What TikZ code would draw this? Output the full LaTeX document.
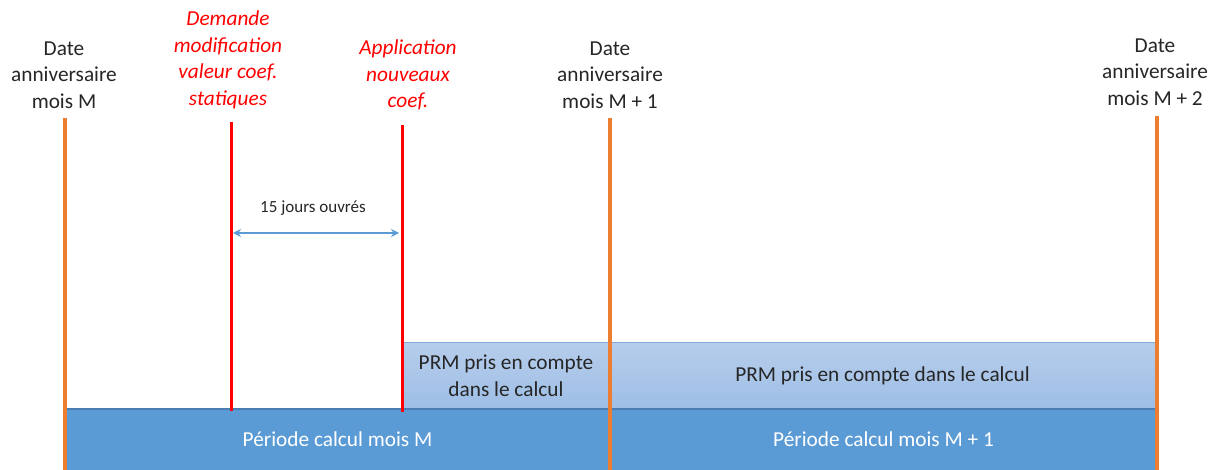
\documentclass[tikz,border=0pt]{standalone}
\usepackage{fontspec}
\setmainfont{Carlito}
\usetikzlibrary{arrows.meta}
\definecolor{orangeL}{HTML}{ED7D31}
\definecolor{redL}{HTML}{FF0000}
\definecolor{darkB}{HTML}{5B9BD5}
\definecolor{darkBedge}{HTML}{4A7DB2}
\definecolor{lightTop}{HTML}{B6CDEB}
\definecolor{lightBot}{HTML}{9EBEE6}
\definecolor{lightEdge}{HTML}{7FAADB}
\definecolor{txt}{HTML}{262626}
\begin{document}
\begin{tikzpicture}[x=1pt,y=-1pt,
  hdr/.style={align=center,inner sep=0pt,text=txt,font=\fontsize{21.3}{26.5}\selectfont},
  redhdr/.style={hdr,text=redL,font=\fontsize{21.3}{26.5}\selectfont\itshape},
  datel/.style={draw=orangeL,line width=4pt},
  redl/.style={draw=redL,line width=3pt},
  lightbox/.style={rectangle,inner sep=0pt,top color=lightTop,bottom color=lightBot,align=center,text=txt,font=\fontsize{21.3}{27}\selectfont},
  darkbox/.style={rectangle,inner sep=0pt,fill=darkB,align=center,text=white,font=\fontsize{21.3}{26.5}\selectfont},
  dur/.style={draw=darkB,line width=1.2pt,{Stealth[length=8pt,width=8pt]}-{Stealth[length=8pt,width=8pt]}}
]
\useasboundingbox (0,0) rectangle (1218,470);

% boxes
\node[lightbox,minimum width=208pt,minimum height=66pt] (prm1) at (506,376) {PRM pris en compte\\dans le calcul};
\node[lightbox,minimum width=545pt,minimum height=66pt] (prm2) at (882.5,376) {PRM pris en compte dans le calcul};
\node[darkbox,minimum width=545pt,minimum height=61pt] (per1) at (337.5,439.5) {Période calcul mois M};
\node[darkbox,minimum width=547pt,minimum height=61pt] (per2) at (883.5,439.5) {Période calcul mois M + 1};
\draw[lightEdge,line width=1pt] (prm1.north west) -- (prm2.north east);
\draw[darkBedge,line width=1.5pt] (per1.north west) -- (per2.north east);

% headers
\node[hdr] (dM) at (64,75) {Date\\anniversaire\\mois M};
\node[hdr] (dM1) at (610,75) {Date\\anniversaire\\mois M + 1};
\node[hdr] (dM2) at (1155,72) {Date\\anniversaire\\mois M + 2};
\node[redhdr] (dem) at (228,60) {Demande\\modification\\valeur coef.\\statiques};
\node[redhdr] (app) at (408,75) {Application\\nouveaux\\coef.};

% coordinates for lines
\coordinate (dMt) at (65,118);   \coordinate (dMb) at (65,470);
\coordinate (dM1t) at (610,118); \coordinate (dM1b) at (610,470);
\coordinate (dM2t) at (1157,116); \coordinate (dM2b) at (1157,470);
\coordinate (demt) at (231,122); \coordinate (demb) at (231,411);
\coordinate (appt) at (402,125); \coordinate (appb) at (402,412);

\draw[redl] (demt) -- (demb);
\draw[redl] (appt) -- (appb);
\draw[datel] (dMt) -- (dMb);
\draw[datel] (dM1t) -- (dM1b);
\draw[datel] (dM2t) -- (dM2b);

% duration arrow
\coordinate (durL) at (233,233);
\coordinate (durR) at (399,233);
\draw[dur] (durL) -- (durR);
\node[inner sep=0pt,text=txt,font=\fontsize{17}{20}\selectfont] (durlab) at (313,208) {15 jours ouvrés};
\end{tikzpicture}
\end{document}
